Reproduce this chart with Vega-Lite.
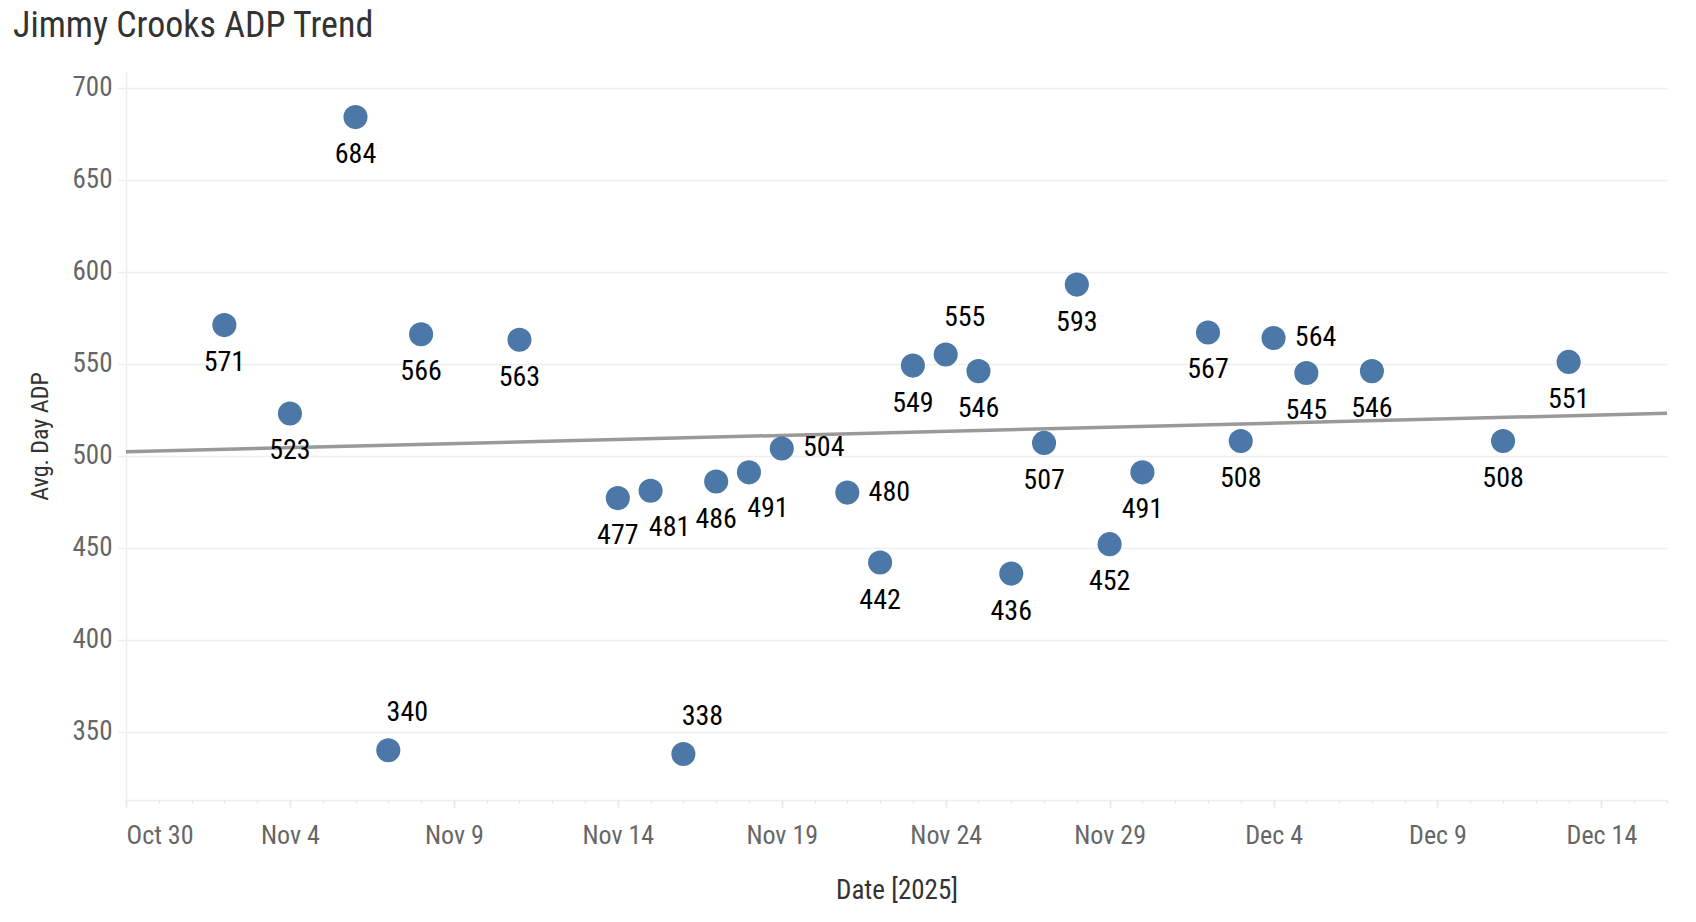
{
  "$schema": "https://vega.github.io/schema/vega-lite/v6.json",
  "width": 1541,
  "height": 728,
  "autosize": {"type": "none"},
  "padding": {"left": 126, "top": 72, "right": 29, "bottom": 122},
  "background": "white",
  "config": {
    "font": "Roboto Condensed",
    "view": {"stroke": null}
  },
  "title": {
    "text": "Jimmy Crooks ADP Trend",
    "anchor": "start",
    "frame": "group",
    "dx": -113,
    "offset": -1,
    "baseline": "alphabetic",
    "fontSize": 36,
    "fontWeight": "normal",
    "color": "#333333",
    "font": "Roboto Condensed"
  },
  "data": {
    "values": [
      {"date": "2025-11-02", "adp": 571, "pos": "b"},
      {"date": "2025-11-04", "adp": 523, "pos": "b"},
      {"date": "2025-11-06", "adp": 684, "pos": "b"},
      {"date": "2025-11-07", "adp": 340, "pos": "ar"},
      {"date": "2025-11-08", "adp": 566, "pos": "b"},
      {"date": "2025-11-11", "adp": 563, "pos": "b"},
      {"date": "2025-11-14", "adp": 477, "pos": "b"},
      {"date": "2025-11-15", "adp": 481, "pos": "br"},
      {"date": "2025-11-16", "adp": 338, "pos": "ar"},
      {"date": "2025-11-17", "adp": 486, "pos": "b"},
      {"date": "2025-11-18", "adp": 491, "pos": "br"},
      {"date": "2025-11-19", "adp": 504, "pos": "r"},
      {"date": "2025-11-21", "adp": 480, "pos": "r"},
      {"date": "2025-11-22", "adp": 442, "pos": "b"},
      {"date": "2025-11-23", "adp": 549, "pos": "b"},
      {"date": "2025-11-24", "adp": 555, "pos": "ar"},
      {"date": "2025-11-25", "adp": 546, "pos": "b"},
      {"date": "2025-11-26", "adp": 436, "pos": "b"},
      {"date": "2025-11-27", "adp": 507, "pos": "b"},
      {"date": "2025-11-28", "adp": 593, "pos": "b"},
      {"date": "2025-11-29", "adp": 452, "pos": "b"},
      {"date": "2025-11-30", "adp": 491, "pos": "b"},
      {"date": "2025-12-02", "adp": 567, "pos": "b"},
      {"date": "2025-12-03", "adp": 508, "pos": "b"},
      {"date": "2025-12-04", "adp": 564, "pos": "r"},
      {"date": "2025-12-05", "adp": 545, "pos": "b"},
      {"date": "2025-12-07", "adp": 546, "pos": "b"},
      {"date": "2025-12-11", "adp": 508, "pos": "b"},
      {"date": "2025-12-13", "adp": 551, "pos": "b"}
    ]
  },
  "resolve": {"scale": {"x": "shared", "y": "shared"}, "axis": {"x": "independent"}},
  "layer": [
    {
      "mark": {"type": "circle", "size": 580, "opacity": 1, "color": "#4c78a8"},
      "encoding": {
        "x": {
          "field": "date",
          "type": "temporal",
          "scale": {
            "type": "utc",
            "domain": [
              {"year": 2025, "month": 10, "date": 30, "utc": true},
              {"year": 2025, "month": 12, "date": 16, "utc": true}
            ],
            "nice": false
          },
          "axis": {
            "orient": "bottom",
            "title": "Date [2025]",
            "values": [
              {"year": 2025, "month": 10, "date": 30, "utc": true},
              {"year": 2025, "month": 11, "date": 4, "utc": true},
              {"year": 2025, "month": 11, "date": 9, "utc": true},
              {"year": 2025, "month": 11, "date": 14, "utc": true},
              {"year": 2025, "month": 11, "date": 19, "utc": true},
              {"year": 2025, "month": 11, "date": 24, "utc": true},
              {"year": 2025, "month": 11, "date": 29, "utc": true},
              {"year": 2025, "month": 12, "date": 4, "utc": true},
              {"year": 2025, "month": 12, "date": 9, "utc": true},
              {"year": 2025, "month": 12, "date": 14, "utc": true}
            ],
            "format": "%b %-d",
            "labelFlush": true,
            "labelFont": "Roboto Condensed",
            "labelFontSize": 26,
            "labelColor": "#666666",
            "labelPadding": 14,
            "tickSize": 8,
            "tickColor": "#e6e6e6",
            "tickWidth": 1.5,
            "domainColor": "#eeeeee",
            "domainWidth": 1.5,
            "grid": false,
            "titleFont": "Roboto Condensed",
            "titleFontSize": 27,
            "titleFontWeight": "normal",
            "titleColor": "#333333",
            "titlePadding": 29
          }
        },
        "y": {
          "field": "adp",
          "type": "quantitative",
          "scale": {"domain": [313, 708.5], "nice": false, "zero": false},
          "axis": {
            "title": "Avg. Day ADP",
            "values": [350, 400, 450, 500, 550, 600, 650, 700],
            "labelFont": "Roboto Condensed",
            "labelFontSize": 27,
            "labelColor": "#666666",
            "labelPadding": 5,
            "tickSize": 9,
            "tickColor": "#eeeeee",
            "tickWidth": 1.5,
            "domainColor": "#eeeeee",
            "domainWidth": 1.5,
            "gridColor": "#eeeeee",
            "gridWidth": 1.5,
            "titleFont": "Roboto Condensed",
            "titleFontSize": 24,
            "titleFontWeight": "normal",
            "titleColor": "#333333",
            "titlePadding": 20
          }
        }
      }
    },
    {
      "transform": [
        {"regression": "adp", "on": "date", "extent": [1761782400000, 1765843200000]}
      ],
      "mark": {"type": "line", "color": "#555555", "opacity": 0.6, "strokeWidth": 3.5},
      "encoding": {
        "x": {
          "field": "date",
          "type": "temporal",
          "axis": {
            "orient": "bottom",
            "title": null,
            "labels": false,
            "domain": false,
            "grid": false,
            "tickCount": {"interval": "day", "step": 1},
            "tickSize": 3,
            "tickColor": "#e6e6e6",
            "tickWidth": 1.5
          }
        },
        "y": {"field": "adp", "type": "quantitative"}
      }
    },
    {
      "transform": [{"filter": "datum.pos == 'b'"}],
      "mark": {"type": "text", "dy": 38, "fontSize": 28, "color": "#000000", "baseline": "middle", "font": "Roboto Condensed"},
      "encoding": {
        "x": {"field": "date", "type": "temporal", "axis": null},
        "y": {"field": "adp", "type": "quantitative"},
        "text": {"field": "adp", "type": "quantitative"}
      }
    },
    {
      "transform": [{"filter": "datum.pos == 'br'"}],
      "mark": {"type": "text", "dx": 19, "dy": 37, "fontSize": 28, "color": "#000000", "baseline": "middle", "font": "Roboto Condensed"},
      "encoding": {
        "x": {"field": "date", "type": "temporal", "axis": null},
        "y": {"field": "adp", "type": "quantitative"},
        "text": {"field": "adp", "type": "quantitative"}
      }
    },
    {
      "transform": [{"filter": "datum.pos == 'ar'"}],
      "mark": {"type": "text", "dx": 19, "dy": -37, "fontSize": 28, "color": "#000000", "baseline": "middle", "font": "Roboto Condensed"},
      "encoding": {
        "x": {"field": "date", "type": "temporal", "axis": null},
        "y": {"field": "adp", "type": "quantitative"},
        "text": {"field": "adp", "type": "quantitative"}
      }
    },
    {
      "transform": [{"filter": "datum.pos == 'r'"}],
      "mark": {"type": "text", "dx": 42, "dy": 0, "fontSize": 28, "color": "#000000", "baseline": "middle", "font": "Roboto Condensed"},
      "encoding": {
        "x": {"field": "date", "type": "temporal", "axis": null},
        "y": {"field": "adp", "type": "quantitative"},
        "text": {"field": "adp", "type": "quantitative"}
      }
    }
  ]
}
